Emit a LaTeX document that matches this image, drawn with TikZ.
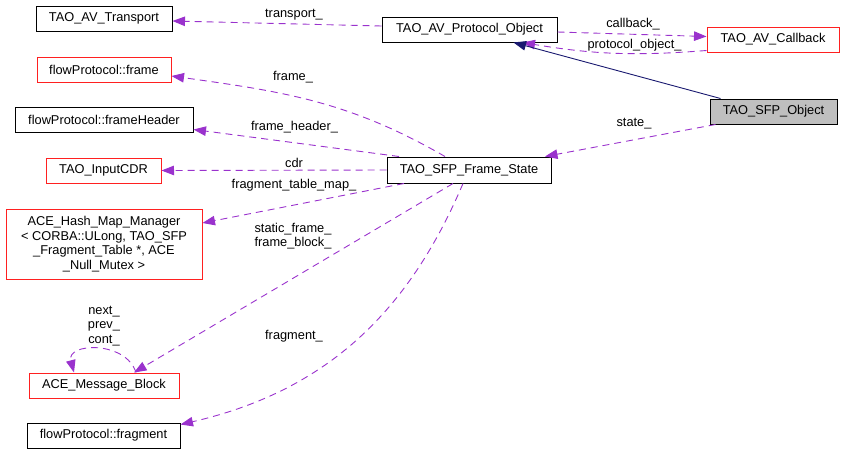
\documentclass[tikz,border=0pt]{standalone}
\usepackage{fontspec}
\setmainfont{Liberation Sans}
\usetikzlibrary{arrows.meta}
\definecolor{usespurple}{HTML}{9A32CD}
\definecolor{inheritnavy}{HTML}{191970}
\definecolor{boxred}{HTML}{FF2020}
\tikzset{
    classbox/.style={draw=black, line width=1pt, inner sep=0pt, minimum height=25pt,
        align=center, font=\fontsize{12.8}{14.5}\selectfont},
    redbox/.style={classbox, draw=boxred},
    graybox/.style={classbox, fill=black!25},
    edgelabel/.style={inner sep=0pt, align=center, font=\fontsize{12.8}{14.5}\selectfont},
    uses/.style={draw=usespurple, line width=0.9pt, dash pattern=on 7pt off 5pt,
        -{Triangle[length=12.5pt,width=9.5pt]}},
    inherit/.style={draw=inheritnavy, line width=0.9pt, -{Triangle[length=12.5pt,width=9.5pt]}}
}
\begin{document}
\begin{tikzpicture}[x=1pt,y=1pt]
        \useasboundingbox (0,0) rectangle (845,-455);

        \node[classbox, minimum width=136pt] (transport) at (104,-18.5) {TAO\_AV\_Transport};
        \node[redbox, minimum width=134pt] (frame) at (104,-69.5) {flowProtocol::frame};
        \node[classbox, minimum width=178pt] (header) at (104,-119.5) {flowProtocol::frameHeader};
        \node[redbox, minimum width=115pt] (cdr) at (103.5,-170.5) {TAO\_InputCDR};
        \node[redbox, minimum width=196pt, minimum height=70pt] (hashmap) at (104,-244)
            {ACE\_Hash\_Map\_Manager\\{<} CORBA::ULong, TAO\_SFP\\\_Fragment\_Table *, ACE\\\_Null\_Mutex {>}};
        \node[redbox, minimum width=150pt] (msgblock) at (104,-385.5) {ACE\_Message\_Block};
        \node[classbox, minimum width=153pt] (fragment) at (103.5,-435.5) {flowProtocol::fragment};

        \node[classbox, minimum width=175pt] (protobj) at (469.5,-29.5) {TAO\_AV\_Protocol\_Object};
        \node[classbox, minimum width=164pt, minimum height=26pt] (framestate) at (469,-170) {TAO\_SFP\_Frame\_State};
        \node[redbox, minimum width=132pt] (callback) at (773,-39.5) {TAO\_AV\_Callback};
        \node[graybox, minimum width=127pt] (sfpobj) at (773.5,-111.5) {TAO\_SFP\_Object};

        \draw[uses] ([yshift=3.5pt]protobj.west) -- ([yshift=-2.5pt]transport.east);
        \draw[uses] ([yshift=-2.5pt]protobj.east) -- ([yshift=3pt]callback.west);
        \draw[uses] ([yshift=2pt]callback.south west) to[bend left=7] ([xshift=53pt]protobj.south);
        \draw[inherit] ([xshift=-53pt]sfpobj.north) -- ([xshift=44pt]protobj.south);
        \draw[uses] ([xshift=-58pt]sfpobj.south) -- ([xshift=76pt]framestate.north);

        \draw[uses] ([xshift=-24pt]framestate.north) to[out=150, in=-8] ([yshift=-6.5pt]frame.east);
        \draw[uses] ([xshift=-70pt]framestate.north) -- ([yshift=-10pt]header.east);
        \draw[uses] (framestate.west) -- (cdr.east);
        \draw[uses] ([xshift=-65pt]framestate.south) -- ([yshift=21pt]hashmap.east);
        \draw[uses] ([xshift=-16pt]framestate.south) -- ([xshift=30pt]msgblock.north);
        \draw[uses] ([xshift=-6pt]framestate.south) to[out=-113, in=13] ([yshift=-2pt]fragment.north east);
        \draw[uses] ([xshift=32pt]msgblock.north) .. controls +(-10,32) and +(-8,30) .. ([xshift=-30pt]msgblock.north);

        \node[edgelabel] (transportlbl) at (294,-15) {transport\_};
        \node[edgelabel] (callbacklbl) at (633,-24) {callback\_};
        \node[edgelabel] (protolbl) at (634.5,-45) {protocol\_object\_};
        \node[edgelabel] (statelbl) at (634,-124) {state\_};
        \node[edgelabel] (framelbl) at (293,-77) {frame\_};
        \node[edgelabel] (headerlbl) at (294.5,-127) {frame\_header\_};
        \node[edgelabel] (cdrlbl) at (294,-163) {cdr};
        \node[edgelabel] (maplbl) at (294,-185) {fragment\_table\_map\_};
        \node[edgelabel] (blocklbl) at (293,-236) {static\_frame\_\\frame\_block\_};
        \node[edgelabel] (fragmentlbl) at (294,-336) {fragment\_};
        \node[edgelabel] (looplbl) at (104,-326) {next\_\\prev\_\\cont\_};
\end{tikzpicture}
\end{document}
